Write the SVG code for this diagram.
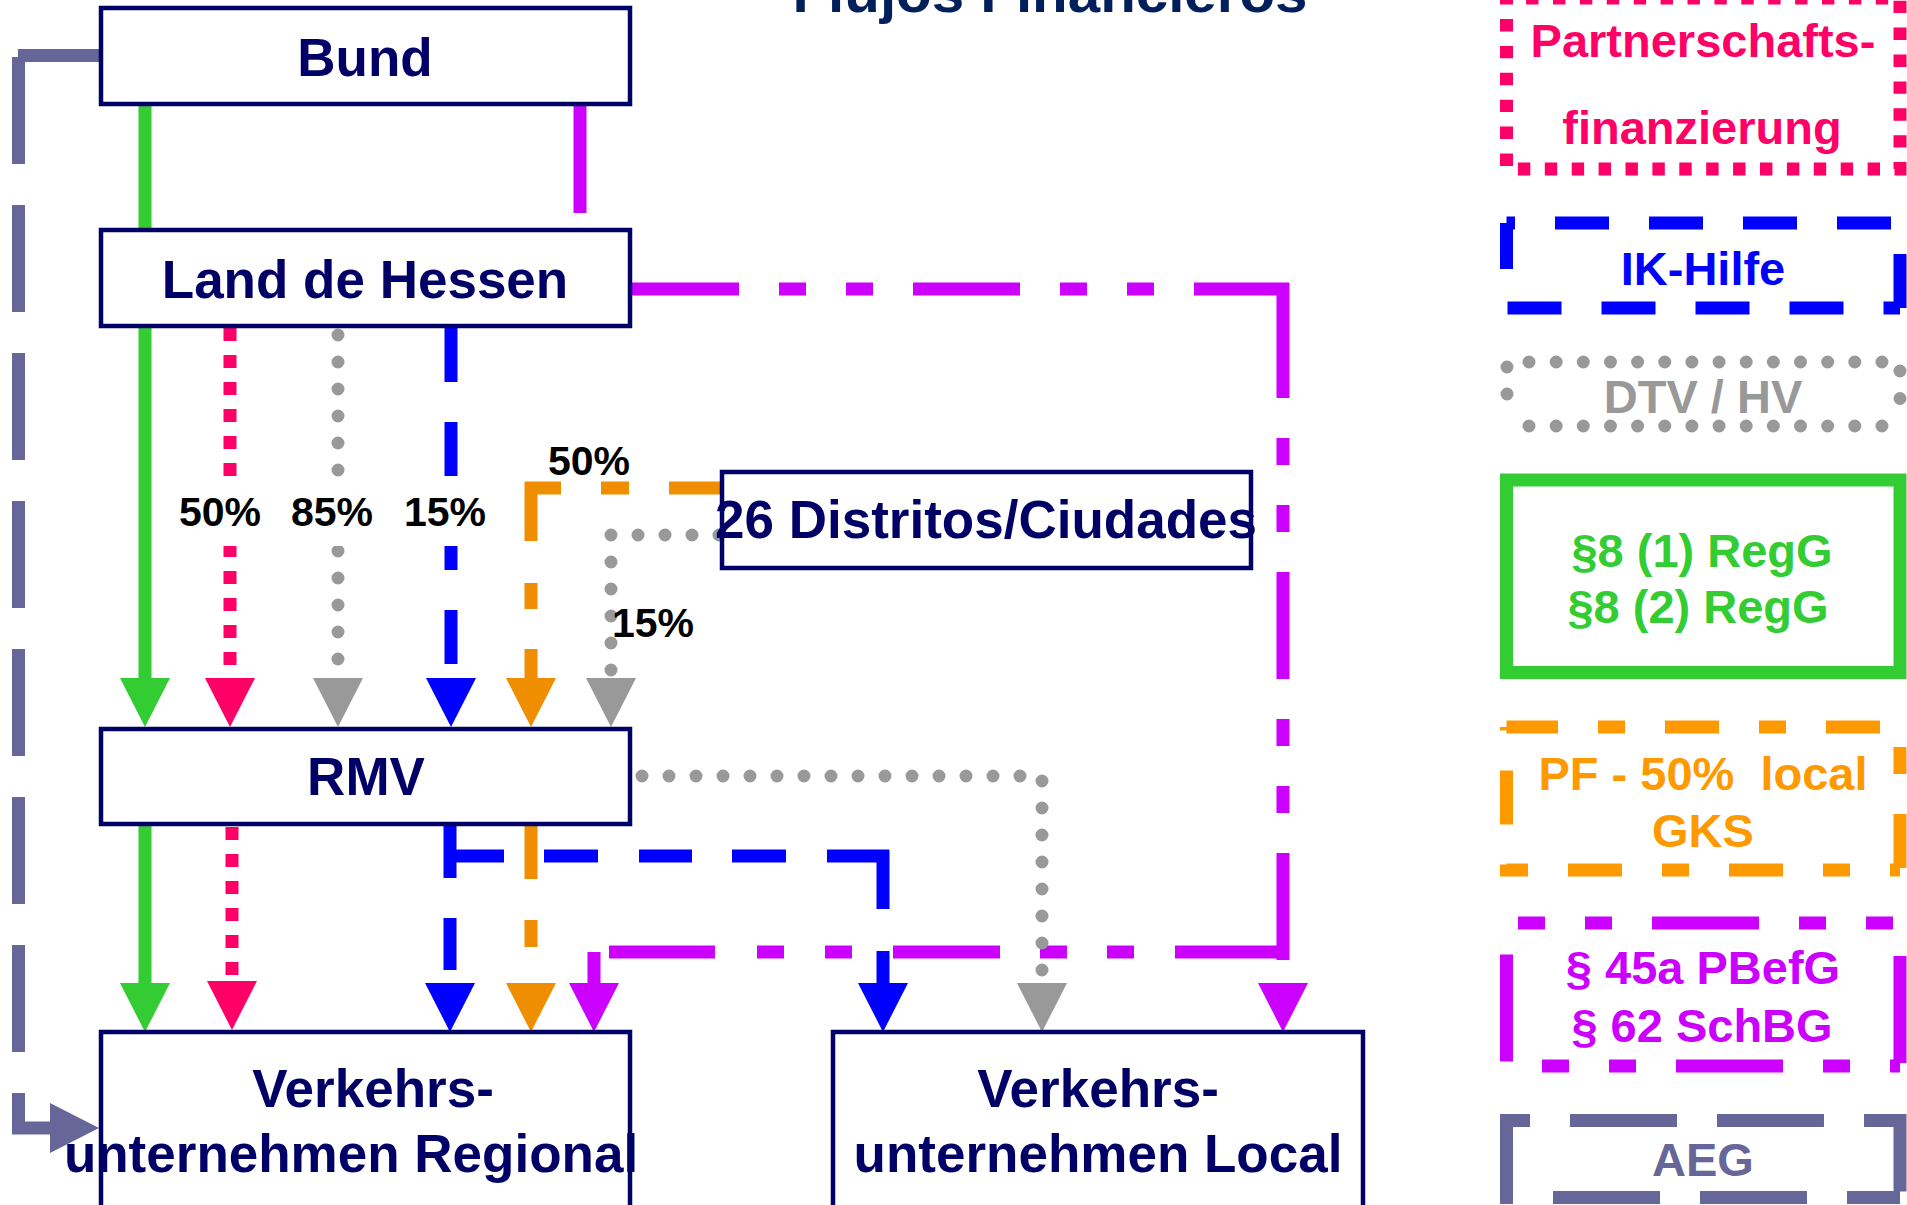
<svg xmlns="http://www.w3.org/2000/svg" width="1907" height="1205" viewBox="0 0 1907 1205">
<style>
text{font-family:"Liberation Sans",Arial,sans-serif;font-weight:bold;text-anchor:middle}
.node rect{fill:#fff;stroke:#000066;stroke-width:4.5}
.nt{font-size:53px;fill:#000066}
.pct{font-size:41px;fill:#000}
.lg{font-size:47px}
.ln{fill:none;stroke-width:13}
.g{stroke:#33CC33}
.p{stroke:#FF0066;stroke-dasharray:13 14}
.gr{stroke:#999999;stroke-dasharray:0 27;stroke-linecap:round}
.b{stroke:#0000FF}
.o{stroke:#EE8E00}
.m{stroke:#CC00FF;stroke-dasharray:107 40 27 40 27 40}
.s{stroke:#666699}
.bg{fill:#fff}
</style>
<defs>
<marker id="ag" viewBox="0 -25 49 50" markerWidth="49" markerHeight="50" refX="0" refY="0" orient="auto" markerUnits="userSpaceOnUse"><path d="M0,-25L49,0L0,25z" fill="#33CC33"/></marker>
<marker id="ap" viewBox="0 -25 49 50" markerWidth="49" markerHeight="50" refX="0" refY="0" orient="auto" markerUnits="userSpaceOnUse"><path d="M0,-25L49,0L0,25z" fill="#FF0066"/></marker>
<marker id="agr" viewBox="0 -25 49 50" markerWidth="49" markerHeight="50" refX="0" refY="0" orient="auto" markerUnits="userSpaceOnUse"><path d="M0,-25L49,0L0,25z" fill="#999999"/></marker>
<marker id="ab" viewBox="0 -25 49 50" markerWidth="49" markerHeight="50" refX="0" refY="0" orient="auto" markerUnits="userSpaceOnUse"><path d="M0,-25L49,0L0,25z" fill="#0000FF"/></marker>
<marker id="ao" viewBox="0 -25 49 50" markerWidth="49" markerHeight="50" refX="0" refY="0" orient="auto" markerUnits="userSpaceOnUse"><path d="M0,-25L49,0L0,25z" fill="#EE8E00"/></marker>
<marker id="am" viewBox="0 -25 49 50" markerWidth="49" markerHeight="50" refX="0" refY="0" orient="auto" markerUnits="userSpaceOnUse"><path d="M0,-25L49,0L0,25z" fill="#CC00FF"/></marker>
<marker id="as" viewBox="0 -25 49 50" markerWidth="49" markerHeight="50" refX="0" refY="0" orient="auto" markerUnits="userSpaceOnUse"><path d="M0,-25L49,0L0,25z" fill="#666699"/></marker>
</defs>
<rect width="1907" height="1205" fill="#fff"/>
<text id="title" x="1050" y="12" font-size="56" fill="#001F5B" textLength="515" lengthAdjust="spacingAndGlyphs">Flujos Financieros</text>
<g id="connectors">
<path class="ln g" d="M145,105V230"/>
<path class="ln g" d="M145,326V678" marker-end="url(#ag)"/>
<path class="ln g" d="M145,826V983" marker-end="url(#ag)"/>
<path class="ln m" d="M580,106V230"/>
<path class="ln m" d="M632,289H1289"/>
<path class="ln m" d="M1283,283V983" style="stroke-dasharray:115 40 27 40 27 40 107 40 27 40 27 40 107 40 27 40 27 40" marker-end="url(#am)"/>
<path class="ln m" d="M1289,952H594V983" style="stroke-dasharray:114 41 27 40 27 40 107 41 27 41 27 42 106 15 60" marker-end="url(#am)"/>
<path class="ln p" d="M230,328V678" marker-end="url(#ap)"/>
<path class="ln p" d="M232,827V981" marker-end="url(#ap)"/>
<path class="ln gr" d="M338,335V678" marker-end="url(#agr)"/>
<path class="ln gr" d="M719,535H611V678" marker-end="url(#agr)"/>
<path class="ln gr" d="M642,776H1042V983" marker-end="url(#agr)"/>
<path class="ln b" d="M451,328V678" style="stroke-dasharray:54 40" marker-end="url(#ab)"/>
<path class="ln b" d="M450,826V983" style="stroke-dasharray:52 40" marker-end="url(#ab)"/>
<path class="ln b" d="M444,856H889" style="stroke-dasharray:60 40 54 41 53 40 54 41 62"/>
<path class="ln b" d="M883,850V983" style="stroke-dasharray:59 42 60" marker-end="url(#ab)"/>
<path class="ln o" d="M722,488H525" style="stroke-dasharray:53 40 28 40 40"/>
<path class="ln o" d="M531,482V678" style="stroke-dasharray:59 42 26 40 40" marker-end="url(#ao)"/>
<path class="ln o" d="M531,826V983" style="stroke-dasharray:53 41 27 40 60" marker-end="url(#ao)"/>
<path class="ln s" d="M99,55.5H18"/>
<path class="ln s" d="M18.5,57V1128H50" style="stroke-dasharray:107 41" marker-end="url(#as)"/>
<rect class="bg" x="180" y="477" width="82" height="69"/>
<rect class="bg" x="291" y="477" width="83" height="69"/>
<rect class="bg" x="404" y="477" width="82" height="69"/>
<text class="pct" x="220" y="526">50%</text>
<text class="pct" x="332" y="526">85%</text>
<text class="pct" x="445" y="526">15%</text>
<text class="pct" x="589" y="475">50%</text>
<text class="pct" x="653" y="637">15%</text>
</g>
<g id="bund" class="node"><rect x="101" y="8" width="529" height="96"/><text class="nt" x="365" y="76">Bund</text></g>
<g id="land" class="node"><rect x="101" y="230" width="529" height="96"/><text class="nt" x="365" y="298">Land de Hessen</text></g>
<g id="distritos" class="node"><rect x="722" y="472" width="529" height="96"/><text class="nt" x="986" y="538">26 Distritos/Ciudades</text></g>
<g id="rmv" class="node"><rect x="101" y="729" width="529" height="95"/><text class="nt" x="366" y="795">RMV</text></g>
<g id="regional" class="node"><rect x="101" y="1032" width="529" height="200"/><text class="nt" x="373" y="1107">Verkehrs-</text><text class="nt" x="351" y="1172">unternehmen Regional</text></g>
<g id="local" class="node"><rect x="833" y="1032" width="530" height="200"/><text class="nt" x="1098" y="1107">Verkehrs-</text><text class="nt" x="1098" y="1172">unternehmen Local</text></g>
<g id="legend-partnerschaft">
<path class="ln" stroke="#FF0066" d="M1506.5,-2V169H1900V-2Z" style="stroke-dasharray:12.4 14.5;stroke-dashoffset:5.9"/>
<text class="lg" fill="#FF0066" x="1703" y="57">Partnerschafts-</text>
<text class="lg" fill="#FF0066" x="1702" y="144">finanzierung</text>
</g>
<g id="legend-ik">
<path class="ln b" d="M1506.5,223V308H1900" style="stroke-dasharray:54 40;stroke-dashoffset:8"/>
<path class="ln b" d="M1900,308V223H1506.5" style="stroke-dasharray:54 40"/>
<text class="lg" fill="#0000FF" x="1703" y="285">IK-Hilfe</text>
</g>
<g id="legend-dtv">
<path class="ln gr" d="M1507,367V421"/>
<path class="ln gr" d="M1900,371V426" style="stroke-dasharray:0 27.5"/>
<path class="ln gr" d="M1529,362H1882" style="stroke-dasharray:0 27.15"/>
<path class="ln gr" d="M1529,426H1882" style="stroke-dasharray:0 27.15"/>
<text class="lg" fill="#999999" x="1703" y="413">DTV / HV</text>
</g>
<g id="legend-regg">
<rect x="1506.5" y="480" width="393.5" height="192.5" fill="none" stroke="#33CC33" stroke-width="13"/>
<text class="lg" fill="#33CC33" x="1702" y="567">§8 (1) RegG</text>
<text class="lg" fill="#33CC33" x="1698" y="623">§8 (2) RegG</text>
</g>
<g id="legend-pf">
<path class="ln" stroke="#FF9900" d="M1506.5,727H1900V870" style="stroke-dasharray:54 40 27 40;stroke-dashoffset:2.5"/>
<path class="ln" stroke="#FF9900" d="M1900,870H1506.5V727" style="stroke-dasharray:54 40 27 40;stroke-dashoffset:44"/>
<text class="lg" fill="#FF9900" x="1703" y="790" xml:space="preserve">PF - 50%  local</text>
<text class="lg" fill="#FF9900" x="1703" y="847">GKS</text>
</g>
<g id="legend-pbefg">
<path class="ln m" d="M1506.5,923H1900V1066" style="stroke-dashoffset:135.5"/>
<path class="ln m" d="M1900,1066H1506.5V923" style="stroke-dashoffset:164"/>
<text class="lg" fill="#CC00FF" x="1703" y="984">§ 45a PBefG</text>
<text class="lg" fill="#CC00FF" x="1702" y="1042">§ 62 SchBG</text>
</g>
<g id="legend-aeg">
<path class="ln s" d="M1506.5,1204V1120.5H1900V1197.5" style="stroke-dasharray:107 40"/>
<path class="ln s" d="M1900,1197.5H1506.5" style="stroke-dasharray:107 40;stroke-dashoffset:54"/>
<text class="lg" fill="#666699" x="1703" y="1176">AEG</text>
</g>
</svg>
